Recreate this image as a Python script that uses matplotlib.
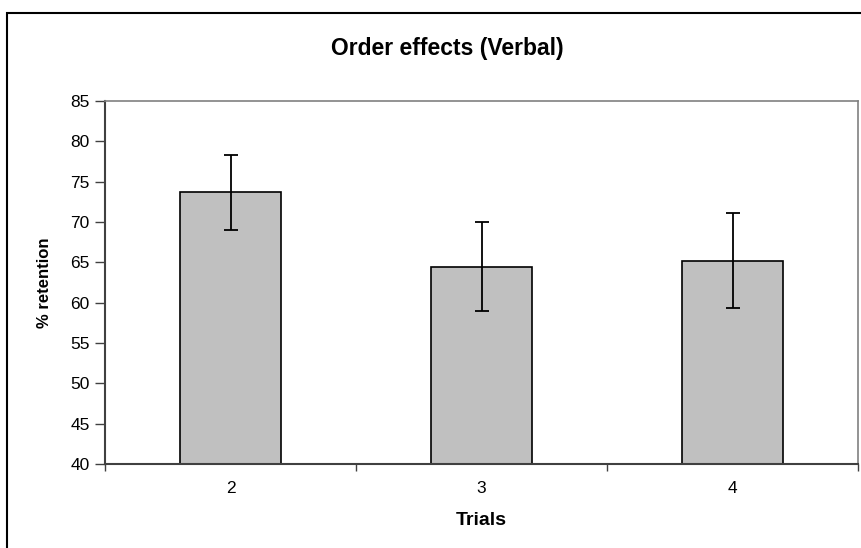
import matplotlib
matplotlib.use("Agg")
import matplotlib.pyplot as plt
from matplotlib.patches import Rectangle

plt.rcParams['font.family'] = ['Liberation Sans', 'DejaVu Sans']

trials = ['2', '3', '4']
retention = [73.75, 64.45, 65.2]
err_up = [4.55, 5.55, 5.9]
err_down = [4.75, 5.45, 5.9]

fig = plt.figure(figsize=(8.62, 5.48), dpi=100)
ax = fig.add_axes([105 / 862, 1 - 464 / 548, 753 / 862, 363 / 548])

x = list(range(len(trials)))
ax.bar(x, retention, width=0.406, color='#C0C0C0', edgecolor='black', linewidth=1.2, zorder=2)
ax.errorbar(x, retention, yerr=[err_down, err_up], fmt='none', ecolor='black',
            elinewidth=1.3, capsize=5, capthick=1.3, zorder=3)

ax.set_xlim(-0.5, 2.5)
ax.set_ylim(40, 85)
ax.set_yticks(range(40, 86, 5))
ax.set_xticks(x)
ax.set_xticklabels(trials)
ax.set_xticks([-0.5, 0.5, 1.5, 2.5], minor=True)
ax.tick_params(axis='x', which='major', length=0, pad=12, labelsize=12.5)
ax.tick_params(axis='x', which='minor', length=5, width=1, color='#404040')
ax.tick_params(axis='y', length=7, width=1, color='#404040', labelsize=12.5, pad=4)

for side in ['top', 'right']:
    ax.spines[side].set_color('#808080')
    ax.spines[side].set_linewidth(1.2)
ax.spines['left'].set_color('#404040')
ax.spines['left'].set_linewidth(1.5)
ax.spines['bottom'].set_color('#404040')
ax.spines['bottom'].set_linewidth(1.5)

ax.set_xlabel('Trials', fontsize=14, fontweight='bold', labelpad=12)
ax.set_ylabel('% retention', fontsize=12, fontweight='bold', labelpad=13)
fig.text(447 / 862, 1 - 48 / 548, 'Order effects (Verbal)',
         ha='center', va='center', fontsize=16.5, fontweight='bold')

# outer chart frame (cropped at the right and bottom)
fig.patches.append(Rectangle((7 / 862, -0.05), 1.2, 1 - 13 / 548 + 0.05,
                             transform=fig.transFigure, fill=False,
                             edgecolor='black', linewidth=1.5))

fig.savefig('out.png', dpi=100)
